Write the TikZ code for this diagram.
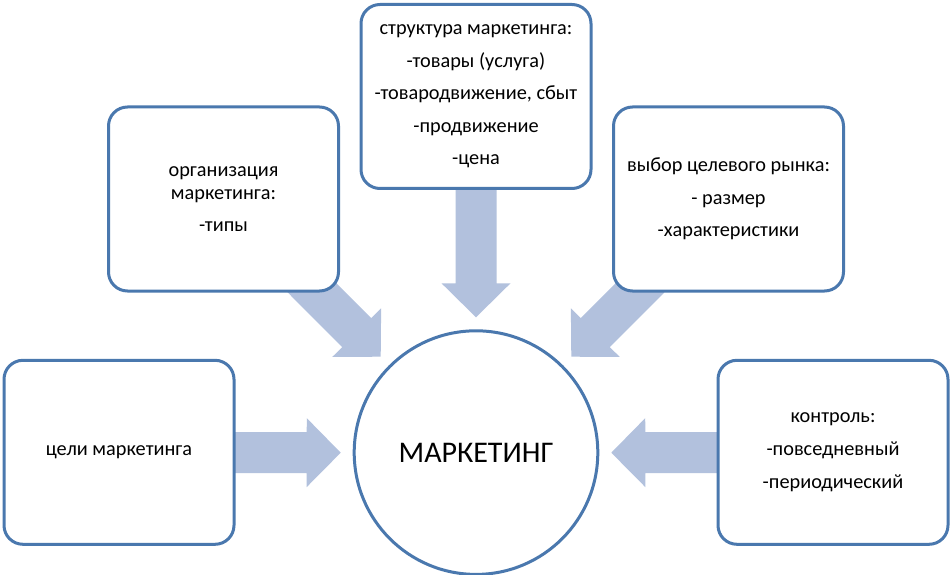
\documentclass[tikz,border=0pt]{standalone}
\usepackage{fontspec}
\setmainfont{Carlito}
\usetikzlibrary{calc,backgrounds}
\definecolor{boxline}{HTML}{4A78AE}
\definecolor{arrowfill}{HTML}{B2C1DD}
\newcommand{\blockarrow}[2]{%
  \coordinate (ah) at ($(#2)!34pt!(#1)$);
  \fill[arrowfill] ($(#1)!20.5pt!90:(#2)$) -- ($(ah)!20.5pt!90:(#2)$) -- ($(ah)!34.5pt!90:(#2)$) -- (#2) -- ($(ah)!34.5pt!-90:(#2)$) -- ($(ah)!20.5pt!-90:(#2)$) -- ($(#1)!20.5pt!-90:(#2)$) -- cycle;}
\tikzset{
  infobox/.style={draw=boxline, line width=3pt, fill=white, rounded corners=19pt,
    minimum width=230pt, minimum height=184pt, align=center, inner sep=2pt,
    font=\fontsize{20.3pt}{23pt}\selectfont},
  hub/.style={circle, draw=boxline, line width=3pt, fill=white, minimum size=243.6pt,
    inner sep=0pt, font=\fontsize{30pt}{34pt}\selectfont}
}
\begin{document}
\begin{tikzpicture}[x=1pt,y=-1pt]
\useasboundingbox (0,0) rectangle (951,575);
\node[infobox] (tc) at (476,96.5) {структура маркетинга:\\[9.6pt]-товары (услуга)\\[9.6pt]-товародвижение, сбыт\\[9.6pt]-продвижение\\[9.6pt]-цена};
\node[infobox] (tl) at (223.5,199) {организация\\маркетинга:\\[9.6pt]-типы};
\node[infobox] (tr) at (728.5,199) {выбор целевого рынка:\\[9.6pt]- размер\\[9.6pt]-характеристики};
\node[infobox] (bl) at (119,452.3) {цели маркетинга};
\node[infobox] (br) at (833,452.3) {контроль:\\[9.6pt]-повседневный\\[9.6pt]-периодический};
\node[hub] (m) at (476,452.6) {МАРКЕТИНГ};
\coordinate (ptc) at (476,317.3);
\coordinate (ptl) at (380.7,356.7);
\coordinate (ptr) at (571.3,356.7);
\coordinate (pbl) at (340.7,452.7);
\coordinate (pbr) at (611.3,452.7);
\begin{pgfonlayer}{background}
\fill[white] (0,0) rectangle (951,575);
\blockarrow{tc.center}{ptc}
\blockarrow{tl.center}{ptl}
\blockarrow{tr.center}{ptr}
\blockarrow{bl.center}{pbl}
\blockarrow{br.center}{pbr}
\end{pgfonlayer}
\end{tikzpicture}
\end{document}
